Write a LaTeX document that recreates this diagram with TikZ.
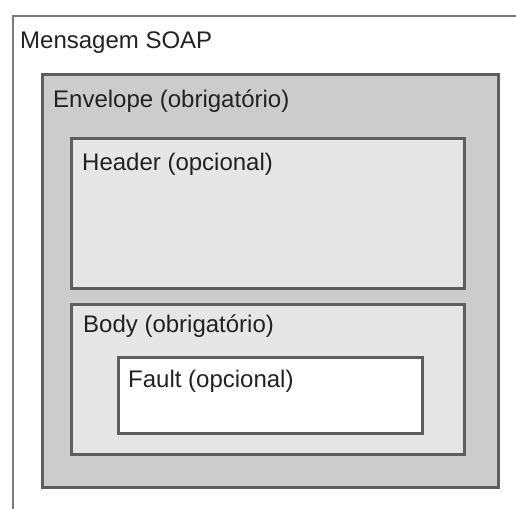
\documentclass[tikz,border=0pt]{standalone}
\usepackage{fontspec}
\setmainfont{Liberation Sans}
\definecolor{framegray}{HTML}{5E5E5E}
\definecolor{outergray}{HTML}{7A7A7A}
\definecolor{envfill}{HTML}{CCCCCC}
\definecolor{partfill}{HTML}{E6E6E6}
\definecolor{labeltext}{HTML}{222222}
\begin{document}
\begin{tikzpicture}[x=1pt,y=-1pt,
  box/.style={draw=framegray, line width=2.6pt, anchor=north west, inner sep=0pt},
  lbl/.style={anchor=base west, inner sep=0pt, text=labeltext,
    font=\fontsize{24}{28}\selectfont}]
  \useasboundingbox (0,0) rectangle (516,508);
  \clip (0,0) rectangle (516,508);
  % message frame, running off the right and bottom
  \node[draw=outergray, line width=2pt, fill=white, anchor=north west, inner sep=0pt,
        minimum width=540pt, minimum height=540pt] (msg) at (12,15) {};
  % envelope
  \node[box, fill=envfill, minimum width=456pt, minimum height=413pt] (env) at (41,73) {};
  % header and body
  \node[box, fill=partfill, minimum width=393pt, minimum height=150pt] (hdr) at (70,137) {};
  \node[box, fill=partfill, minimum width=393pt, minimum height=150pt] (bdy) at (70,303) {};
  % fault inside body
  \node[box, fill=white, minimum width=304pt, minimum height=76pt] (flt) at (117,356) {};
  % labels
  \node[lbl] (msglbl) at (20,49) {Mensagem SOAP};
  \node[lbl] (envlbl) at (53,107) {Envelope (obrigatório)};
  \node[lbl] (hdrlbl) at (82,170) {Header (opcional)};
  \node[lbl] (bdylbl) at (83,332) {Body (obrigatório)};
  \node[lbl] (fltlbl) at (128,387) {Fault (opcional)};
\end{tikzpicture}
\end{document}
